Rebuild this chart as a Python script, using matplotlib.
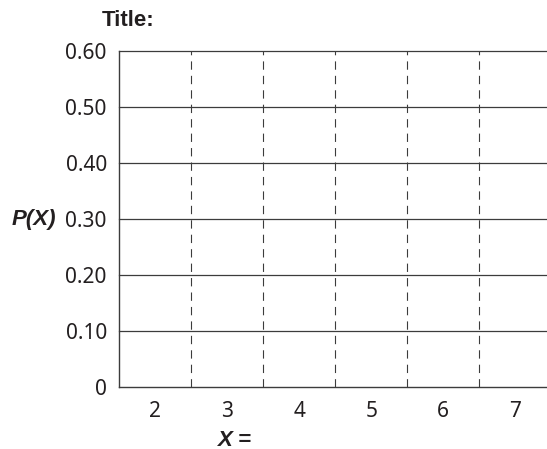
import numpy as np
from matplotlib import pyplot as plt

# blank probability distribution template
x_values = [2, 3, 4, 5, 6, 7]
y_ticks = [0, 0.10, 0.20, 0.30, 0.40, 0.50, 0.60]
y_tick_labels = ["0", "0.10", "0.20", "0.30", "0.40", "0.50", "0.60"]

W, H = 547, 449
ink = "#231f20"
line = "#3c3c3c"

plt.rcParams['font.family'] = ['Noto Sans', 'DejaVu Sans']
bold_font = ['Liberation Sans', 'DejaVu Sans']

fig = plt.figure(figsize=(W / 100, H / 100), dpi=100)
ax = fig.add_axes([119.3 / W, 62 / H, 432 / W, 336 / H])

pos = np.arange(len(x_values))
ax.set_xlim(-0.5, len(x_values) - 0.5)
ax.set_ylim(0, 0.6)

# solid horizontal lines at each y tick
for yv in y_ticks[1:]:
    ax.axhline(yv, color=line, lw=0.9, clip_on=False)
# dashed separators between categories
for xv in pos[:-1] + 0.5:
    ax.axvline(xv, color=line, lw=0.8, linestyle=(0, (7.5, 5.5)))

ax.set_xticks(pos)
ax.set_xticklabels([str(v) for v in x_values])
ax.set_yticks(y_ticks)
ax.set_yticklabels(y_tick_labels)
ax.tick_params(axis='both', length=0, labelsize=15, colors=ink)
ax.tick_params(axis='x', pad=10)
ax.tick_params(axis='y', pad=9)

for s in ['top', 'right']:
    ax.spines[s].set_visible(False)
for s in ['left', 'bottom']:
    ax.spines[s].set_color(line)
    ax.spines[s].set_linewidth(1.0)

fig.text(102 / W, 1 - 20 / H, "Title:", ha='left', va='center',
         fontsize=16, fontweight='bold', family=bold_font, color=ink)
fig.text(56 / W, 1 - 219 / H, "P(X)", ha='right', va='center',
         fontsize=16, fontweight='bold', fontstyle='italic',
         family=bold_font, color=ink)
fig.text(217 / W, 1 - 440 / H, "X =", ha='left', va='center',
         fontsize=16, fontweight='bold', fontstyle='italic',
         family=bold_font, color=ink)

fig.savefig("out.png", dpi=100)
